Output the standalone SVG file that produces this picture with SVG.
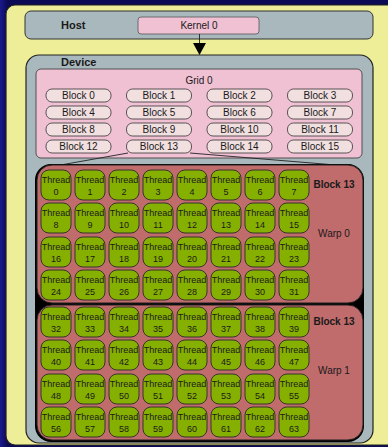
<svg xmlns="http://www.w3.org/2000/svg" width="388" height="447" viewBox="0 0 388 447">
<style>
text{font-family:"Liberation Sans",Arial,sans-serif;fill:#1a1a1a;text-anchor:middle}
.b{font-weight:bold;font-size:11px;text-anchor:start}
.lb{font-weight:bold;font-size:10px}
.t10{font-size:10px}
.th{font-size:9px}
.blk{fill:#f2dfe0;stroke:#333;stroke-width:0.8}
.thr{fill:#86b000;stroke:#2a2a2a;stroke-width:0.9}
.warp{fill:#c06b6c;stroke:#222;stroke-width:1}
</style>
<defs>
<linearGradient id="bg" x1="0" y1="0" x2="1" y2="0">
<stop offset="0" stop-color="#1a1a90"/>
<stop offset="1" stop-color="#0a0a50"/>
</linearGradient>
</defs>
<rect x="0" y="0" width="388" height="447" fill="#0b0b55"/>
<rect x="0" y="0" width="8" height="447" fill="url(#bg)"/>
<rect id="panel" x="6" y="5" width="392" height="440" rx="9" fill="#eeee98" stroke="#222" stroke-width="1.2"/>
<g id="host">
<rect x="25" y="11" width="348" height="28" rx="6" fill="#a9b8bc" stroke="#333" stroke-width="1"/>
<text class="b" x="61" y="29">Host</text>
</g>
<g id="kernel0">
<rect x="138" y="17" width="121" height="17" rx="3" fill="#f0c0d3" stroke="#555" stroke-width="0.8"/>
<text class="t10" x="199" y="28.5">Kernel 0</text>
</g>
<g id="device">
<rect x="26" y="55" width="347" height="388" rx="13" fill="#a9b8bc" stroke="#222" stroke-width="1.2"/>
<text class="b" x="61" y="66">Device</text>
</g>
<g id="grid0">
<rect x="36" y="69" width="326" height="89" rx="5" fill="#f0c0d3" stroke="#444" stroke-width="0.9"/>
<text class="t10" x="199" y="83.5">Grid 0</text>
</g>
<g id="blocks">
<g id="block0"><rect class="blk" x="46" y="89" width="65" height="13" rx="6"/><text class="t10" x="78.5" y="99">Block 0</text></g>
<g id="block1"><rect class="blk" x="126.5" y="89" width="65" height="13" rx="6"/><text class="t10" x="159" y="99">Block 1</text></g>
<g id="block2"><rect class="blk" x="207" y="89" width="65" height="13" rx="6"/><text class="t10" x="239.5" y="99">Block 2</text></g>
<g id="block3"><rect class="blk" x="287.5" y="89" width="65" height="13" rx="6"/><text class="t10" x="320" y="99">Block 3</text></g>
<g id="block4"><rect class="blk" x="46" y="106" width="65" height="13" rx="6"/><text class="t10" x="78.5" y="116">Block 4</text></g>
<g id="block5"><rect class="blk" x="126.5" y="106" width="65" height="13" rx="6"/><text class="t10" x="159" y="116">Block 5</text></g>
<g id="block6"><rect class="blk" x="207" y="106" width="65" height="13" rx="6"/><text class="t10" x="239.5" y="116">Block 6</text></g>
<g id="block7"><rect class="blk" x="287.5" y="106" width="65" height="13" rx="6"/><text class="t10" x="320" y="116">Block 7</text></g>
<g id="block8"><rect class="blk" x="46" y="123" width="65" height="13" rx="6"/><text class="t10" x="78.5" y="133">Block 8</text></g>
<g id="block9"><rect class="blk" x="126.5" y="123" width="65" height="13" rx="6"/><text class="t10" x="159" y="133">Block 9</text></g>
<g id="block10"><rect class="blk" x="207" y="123" width="65" height="13" rx="6"/><text class="t10" x="239.5" y="133">Block 10</text></g>
<g id="block11"><rect class="blk" x="287.5" y="123" width="65" height="13" rx="6"/><text class="t10" x="320" y="133">Block 11</text></g>
<g id="block12"><rect class="blk" x="46" y="140" width="65" height="13" rx="6"/><text class="t10" x="78.5" y="150">Block 12</text></g>
<g id="block13"><rect class="blk" x="126.5" y="140" width="65" height="13" rx="6"/><text class="t10" x="159" y="150">Block 13</text></g>
<g id="block14"><rect class="blk" x="207" y="140" width="65" height="13" rx="6"/><text class="t10" x="239.5" y="150">Block 14</text></g>
<g id="block15"><rect class="blk" x="287.5" y="140" width="65" height="13" rx="6"/><text class="t10" x="320" y="150">Block 15</text></g>
</g>
<g id="connectors" stroke="#222" stroke-width="0.9" fill="none">
<line x1="199.5" y1="34" x2="199.5" y2="44"/>
<polygon points="193,43 206,43 199.5,55" fill="#000" stroke="none"/>
<line x1="128" y1="153" x2="55" y2="166"/>
<line x1="190" y1="153" x2="348" y2="166"/>
</g>
<g id="block13detail">
<rect x="35" y="164" width="329" height="278" rx="16" fill="#000"/>
<g id="warp0">
<rect class="warp" x="37" y="165" width="326" height="138" rx="15"/>
<text class="lb" x="334" y="187.5">Block 13</text>
<text class="t10" x="334" y="236.5">Warp 0</text>
</g>
<g id="warp1">
<rect class="warp" x="37" y="305" width="326" height="135" rx="15"/>
<text class="lb" x="334" y="324.5">Block 13</text>
<text class="t10" x="334" y="373.5">Warp 1</text>
</g>
</g>
<g id="threads">
<g id="t0"><rect class="thr" x="41" y="170" width="30" height="30" rx="8"/><text class="th" x="56" y="183">Thread</text><text class="th" x="56" y="194.5">0</text></g>
<g id="t1"><rect class="thr" x="75" y="170" width="30" height="30" rx="8"/><text class="th" x="90" y="183">Thread</text><text class="th" x="90" y="194.5">1</text></g>
<g id="t2"><rect class="thr" x="109" y="170" width="30" height="30" rx="8"/><text class="th" x="124" y="183">Thread</text><text class="th" x="124" y="194.5">2</text></g>
<g id="t3"><rect class="thr" x="143" y="170" width="30" height="30" rx="8"/><text class="th" x="158" y="183">Thread</text><text class="th" x="158" y="194.5">3</text></g>
<g id="t4"><rect class="thr" x="177" y="170" width="30" height="30" rx="8"/><text class="th" x="192" y="183">Thread</text><text class="th" x="192" y="194.5">4</text></g>
<g id="t5"><rect class="thr" x="211" y="170" width="30" height="30" rx="8"/><text class="th" x="226" y="183">Thread</text><text class="th" x="226" y="194.5">5</text></g>
<g id="t6"><rect class="thr" x="245" y="170" width="30" height="30" rx="8"/><text class="th" x="260" y="183">Thread</text><text class="th" x="260" y="194.5">6</text></g>
<g id="t7"><rect class="thr" x="279" y="170" width="30" height="30" rx="8"/><text class="th" x="294" y="183">Thread</text><text class="th" x="294" y="194.5">7</text></g>
<g id="t8"><rect class="thr" x="41" y="203" width="30" height="30" rx="8"/><text class="th" x="56" y="216">Thread</text><text class="th" x="56" y="227.5">8</text></g>
<g id="t9"><rect class="thr" x="75" y="203" width="30" height="30" rx="8"/><text class="th" x="90" y="216">Thread</text><text class="th" x="90" y="227.5">9</text></g>
<g id="t10"><rect class="thr" x="109" y="203" width="30" height="30" rx="8"/><text class="th" x="124" y="216">Thread</text><text class="th" x="124" y="227.5">10</text></g>
<g id="t11"><rect class="thr" x="143" y="203" width="30" height="30" rx="8"/><text class="th" x="158" y="216">Thread</text><text class="th" x="158" y="227.5">11</text></g>
<g id="t12"><rect class="thr" x="177" y="203" width="30" height="30" rx="8"/><text class="th" x="192" y="216">Thread</text><text class="th" x="192" y="227.5">12</text></g>
<g id="t13"><rect class="thr" x="211" y="203" width="30" height="30" rx="8"/><text class="th" x="226" y="216">Thread</text><text class="th" x="226" y="227.5">13</text></g>
<g id="t14"><rect class="thr" x="245" y="203" width="30" height="30" rx="8"/><text class="th" x="260" y="216">Thread</text><text class="th" x="260" y="227.5">14</text></g>
<g id="t15"><rect class="thr" x="279" y="203" width="30" height="30" rx="8"/><text class="th" x="294" y="216">Thread</text><text class="th" x="294" y="227.5">15</text></g>
<g id="t16"><rect class="thr" x="41" y="237" width="30" height="30" rx="8"/><text class="th" x="56" y="250">Thread</text><text class="th" x="56" y="261.5">16</text></g>
<g id="t17"><rect class="thr" x="75" y="237" width="30" height="30" rx="8"/><text class="th" x="90" y="250">Thread</text><text class="th" x="90" y="261.5">17</text></g>
<g id="t18"><rect class="thr" x="109" y="237" width="30" height="30" rx="8"/><text class="th" x="124" y="250">Thread</text><text class="th" x="124" y="261.5">18</text></g>
<g id="t19"><rect class="thr" x="143" y="237" width="30" height="30" rx="8"/><text class="th" x="158" y="250">Thread</text><text class="th" x="158" y="261.5">19</text></g>
<g id="t20"><rect class="thr" x="177" y="237" width="30" height="30" rx="8"/><text class="th" x="192" y="250">Thread</text><text class="th" x="192" y="261.5">20</text></g>
<g id="t21"><rect class="thr" x="211" y="237" width="30" height="30" rx="8"/><text class="th" x="226" y="250">Thread</text><text class="th" x="226" y="261.5">21</text></g>
<g id="t22"><rect class="thr" x="245" y="237" width="30" height="30" rx="8"/><text class="th" x="260" y="250">Thread</text><text class="th" x="260" y="261.5">22</text></g>
<g id="t23"><rect class="thr" x="279" y="237" width="30" height="30" rx="8"/><text class="th" x="294" y="250">Thread</text><text class="th" x="294" y="261.5">23</text></g>
<g id="t24"><rect class="thr" x="41" y="270" width="30" height="30" rx="8"/><text class="th" x="56" y="283">Thread</text><text class="th" x="56" y="294.5">24</text></g>
<g id="t25"><rect class="thr" x="75" y="270" width="30" height="30" rx="8"/><text class="th" x="90" y="283">Thread</text><text class="th" x="90" y="294.5">25</text></g>
<g id="t26"><rect class="thr" x="109" y="270" width="30" height="30" rx="8"/><text class="th" x="124" y="283">Thread</text><text class="th" x="124" y="294.5">26</text></g>
<g id="t27"><rect class="thr" x="143" y="270" width="30" height="30" rx="8"/><text class="th" x="158" y="283">Thread</text><text class="th" x="158" y="294.5">27</text></g>
<g id="t28"><rect class="thr" x="177" y="270" width="30" height="30" rx="8"/><text class="th" x="192" y="283">Thread</text><text class="th" x="192" y="294.5">28</text></g>
<g id="t29"><rect class="thr" x="211" y="270" width="30" height="30" rx="8"/><text class="th" x="226" y="283">Thread</text><text class="th" x="226" y="294.5">29</text></g>
<g id="t30"><rect class="thr" x="245" y="270" width="30" height="30" rx="8"/><text class="th" x="260" y="283">Thread</text><text class="th" x="260" y="294.5">30</text></g>
<g id="t31"><rect class="thr" x="279" y="270" width="30" height="30" rx="8"/><text class="th" x="294" y="283">Thread</text><text class="th" x="294" y="294.5">31</text></g>
<g id="t32"><rect class="thr" x="41" y="307" width="30" height="30" rx="8"/><text class="th" x="56" y="320">Thread</text><text class="th" x="56" y="331.5">32</text></g>
<g id="t33"><rect class="thr" x="75" y="307" width="30" height="30" rx="8"/><text class="th" x="90" y="320">Thread</text><text class="th" x="90" y="331.5">33</text></g>
<g id="t34"><rect class="thr" x="109" y="307" width="30" height="30" rx="8"/><text class="th" x="124" y="320">Thread</text><text class="th" x="124" y="331.5">34</text></g>
<g id="t35"><rect class="thr" x="143" y="307" width="30" height="30" rx="8"/><text class="th" x="158" y="320">Thread</text><text class="th" x="158" y="331.5">35</text></g>
<g id="t36"><rect class="thr" x="177" y="307" width="30" height="30" rx="8"/><text class="th" x="192" y="320">Thread</text><text class="th" x="192" y="331.5">36</text></g>
<g id="t37"><rect class="thr" x="211" y="307" width="30" height="30" rx="8"/><text class="th" x="226" y="320">Thread</text><text class="th" x="226" y="331.5">37</text></g>
<g id="t38"><rect class="thr" x="245" y="307" width="30" height="30" rx="8"/><text class="th" x="260" y="320">Thread</text><text class="th" x="260" y="331.5">38</text></g>
<g id="t39"><rect class="thr" x="279" y="307" width="30" height="30" rx="8"/><text class="th" x="294" y="320">Thread</text><text class="th" x="294" y="331.5">39</text></g>
<g id="t40"><rect class="thr" x="41" y="340" width="30" height="30" rx="8"/><text class="th" x="56" y="353">Thread</text><text class="th" x="56" y="364.5">40</text></g>
<g id="t41"><rect class="thr" x="75" y="340" width="30" height="30" rx="8"/><text class="th" x="90" y="353">Thread</text><text class="th" x="90" y="364.5">41</text></g>
<g id="t42"><rect class="thr" x="109" y="340" width="30" height="30" rx="8"/><text class="th" x="124" y="353">Thread</text><text class="th" x="124" y="364.5">42</text></g>
<g id="t43"><rect class="thr" x="143" y="340" width="30" height="30" rx="8"/><text class="th" x="158" y="353">Thread</text><text class="th" x="158" y="364.5">43</text></g>
<g id="t44"><rect class="thr" x="177" y="340" width="30" height="30" rx="8"/><text class="th" x="192" y="353">Thread</text><text class="th" x="192" y="364.5">44</text></g>
<g id="t45"><rect class="thr" x="211" y="340" width="30" height="30" rx="8"/><text class="th" x="226" y="353">Thread</text><text class="th" x="226" y="364.5">45</text></g>
<g id="t46"><rect class="thr" x="245" y="340" width="30" height="30" rx="8"/><text class="th" x="260" y="353">Thread</text><text class="th" x="260" y="364.5">46</text></g>
<g id="t47"><rect class="thr" x="279" y="340" width="30" height="30" rx="8"/><text class="th" x="294" y="353">Thread</text><text class="th" x="294" y="364.5">47</text></g>
<g id="t48"><rect class="thr" x="41" y="374" width="30" height="30" rx="8"/><text class="th" x="56" y="387">Thread</text><text class="th" x="56" y="398.5">48</text></g>
<g id="t49"><rect class="thr" x="75" y="374" width="30" height="30" rx="8"/><text class="th" x="90" y="387">Thread</text><text class="th" x="90" y="398.5">49</text></g>
<g id="t50"><rect class="thr" x="109" y="374" width="30" height="30" rx="8"/><text class="th" x="124" y="387">Thread</text><text class="th" x="124" y="398.5">50</text></g>
<g id="t51"><rect class="thr" x="143" y="374" width="30" height="30" rx="8"/><text class="th" x="158" y="387">Thread</text><text class="th" x="158" y="398.5">51</text></g>
<g id="t52"><rect class="thr" x="177" y="374" width="30" height="30" rx="8"/><text class="th" x="192" y="387">Thread</text><text class="th" x="192" y="398.5">52</text></g>
<g id="t53"><rect class="thr" x="211" y="374" width="30" height="30" rx="8"/><text class="th" x="226" y="387">Thread</text><text class="th" x="226" y="398.5">53</text></g>
<g id="t54"><rect class="thr" x="245" y="374" width="30" height="30" rx="8"/><text class="th" x="260" y="387">Thread</text><text class="th" x="260" y="398.5">54</text></g>
<g id="t55"><rect class="thr" x="279" y="374" width="30" height="30" rx="8"/><text class="th" x="294" y="387">Thread</text><text class="th" x="294" y="398.5">55</text></g>
<g id="t56"><rect class="thr" x="41" y="407" width="30" height="30" rx="8"/><text class="th" x="56" y="420">Thread</text><text class="th" x="56" y="431.5">56</text></g>
<g id="t57"><rect class="thr" x="75" y="407" width="30" height="30" rx="8"/><text class="th" x="90" y="420">Thread</text><text class="th" x="90" y="431.5">57</text></g>
<g id="t58"><rect class="thr" x="109" y="407" width="30" height="30" rx="8"/><text class="th" x="124" y="420">Thread</text><text class="th" x="124" y="431.5">58</text></g>
<g id="t59"><rect class="thr" x="143" y="407" width="30" height="30" rx="8"/><text class="th" x="158" y="420">Thread</text><text class="th" x="158" y="431.5">59</text></g>
<g id="t60"><rect class="thr" x="177" y="407" width="30" height="30" rx="8"/><text class="th" x="192" y="420">Thread</text><text class="th" x="192" y="431.5">60</text></g>
<g id="t61"><rect class="thr" x="211" y="407" width="30" height="30" rx="8"/><text class="th" x="226" y="420">Thread</text><text class="th" x="226" y="431.5">61</text></g>
<g id="t62"><rect class="thr" x="245" y="407" width="30" height="30" rx="8"/><text class="th" x="260" y="420">Thread</text><text class="th" x="260" y="431.5">62</text></g>
<g id="t63"><rect class="thr" x="279" y="407" width="30" height="30" rx="8"/><text class="th" x="294" y="420">Thread</text><text class="th" x="294" y="431.5">63</text></g>
</g>
</svg>
